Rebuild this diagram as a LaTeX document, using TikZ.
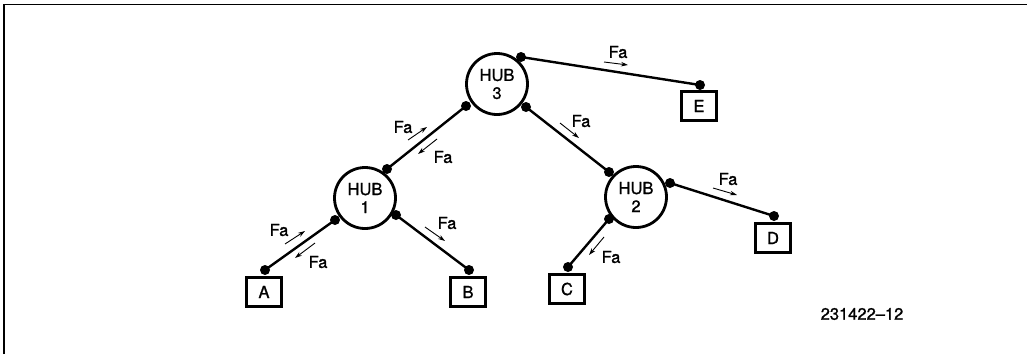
\documentclass[tikz,border=0pt]{standalone}
\usepackage{fontspec}
\setmainfont[FakeBold=1.2,BoldFont={TeX Gyre Heros}]{TeX Gyre Heros}
\usetikzlibrary{calc,arrows.meta}
\begin{document}
\begin{tikzpicture}[x=1pt,y=-1pt,
 hub/.style={circle,draw,line width=2.8pt,minimum size=61pt,inner sep=0pt,align=center,font=\bfseries\fontsize{16.5}{18}\selectfont},
 term/.style={rectangle,draw,line width=2.8pt,minimum width=35pt,minimum height=29pt,inner sep=0pt,font=\bfseries\fontsize{16.5}{19}\selectfont},
 dot/.style={circle,fill,inner sep=0pt,minimum size=10pt},
 link/.style={line width=2.4pt},
 flow/.style={line width=0.9pt,-{Stealth[length=7pt,width=4.5pt]}},
 lbl/.style={font=\bfseries\fontsize{16.5}{19}\selectfont,inner sep=0pt},
]
\useasboundingbox (0,0) rectangle (1027,354);
\draw[line width=1.8pt] (4,354) -- (4,4.5) -- (1027,4.5);

% hubs
\node[hub] (h3) at (497,84) {HUB\\3};
\node[hub] (h1) at (365,198) {HUB\\1};
\node[hub] (h2) at (636,197) {HUB\\2};

% terminals
\node[term] (A) at (264,292) {A};
\node[term] (B) at (468,292) {B};
\node[term] (C) at (567,289) {C};
\node[term] (D) at (773,238) {D};
\node[term] (E) at (699,106) {E};

% attachment dots
\node[dot] (d3e) at (521,57) {};
\node[dot] (d3a) at (466,106) {};
\node[dot] (d3b) at (526,107) {};
\node[dot] (d1u) at (387,169) {};
\node[dot] (d1a) at (335,220) {};
\node[dot] (d1b) at (396,215) {};
\node[dot] (d2u) at (609,172) {};
\node[dot] (d2d) at (670,183) {};
\node[dot] (d2c) at (609,219) {};
\node[dot] (dA) at (265,270) {};
\node[dot] (dB) at (469,270) {};
\node[dot] (dC) at (568,267) {};
\node[dot] (dD) at (774,216) {};
\node[dot] (dE) at (700,85) {};

% links
\draw[link] (d3e.center) -- (dE.center);
\draw[link] (d3a.center) -- (d1u.center);
\draw[link] (d3b.center) -- (d2u.center);
\draw[link] (d1a.center) -- (dA.center);
\draw[link] (d1b.center) -- (dB.center);
\draw[link] (d2c.center) -- (dC.center);
\draw[link] (d2d.center) -- (dD.center);

% flow arrows and labels
\coordinate (fE1) at (604,62); \coordinate (fE2) at (628,65);
\draw[flow] (fE1) -- (fE2);
\node[lbl] (lE) at (618,52) {Fa};

\coordinate (f31a) at (408,140); \coordinate (f31b) at (427,127);
\draw[flow] (f31a) -- (f31b);
\node[lbl] (l31a) at (403,127) {Fa};
\coordinate (f13a) at (437,139); \coordinate (f13b) at (418,154);
\draw[flow] (f13a) -- (f13b);
\node[lbl] (l13a) at (443,157) {Fa};

\coordinate (f32a) at (560,123); \coordinate (f32b) at (579,138);
\draw[flow] (f32a) -- (f32b);
\node[lbl] (l32) at (581,121) {Fa};

\coordinate (fA1) at (285,244); \coordinate (fA2) at (305,231);
\draw[flow] (fA1) -- (fA2);
\node[lbl] (lA1) at (279,230) {Fa};
\coordinate (fA3) at (315,243); \coordinate (fA4) at (295,258);
\draw[flow] (fA3) -- (fA4);
\node[lbl] (lA2) at (318,262) {Fa};

\coordinate (fB1) at (425,227); \coordinate (fB2) at (445,241);
\draw[flow] (fB1) -- (fB2);
\node[lbl] (lB) at (447,223) {Fa};

\coordinate (fC1) at (604,237); \coordinate (fC2) at (589,255);
\draw[flow] (fC1) -- (fC2);
\node[lbl] (lC) at (611,257) {Fa};

\coordinate (fD1) at (713,188); \coordinate (fD2) at (737,195);
\draw[flow] (fD1) -- (fD2);
\node[lbl] (lD) at (728,179) {Fa};

\node[lbl] (id) at (862,314) {231422–12};
\end{tikzpicture}
\end{document}
